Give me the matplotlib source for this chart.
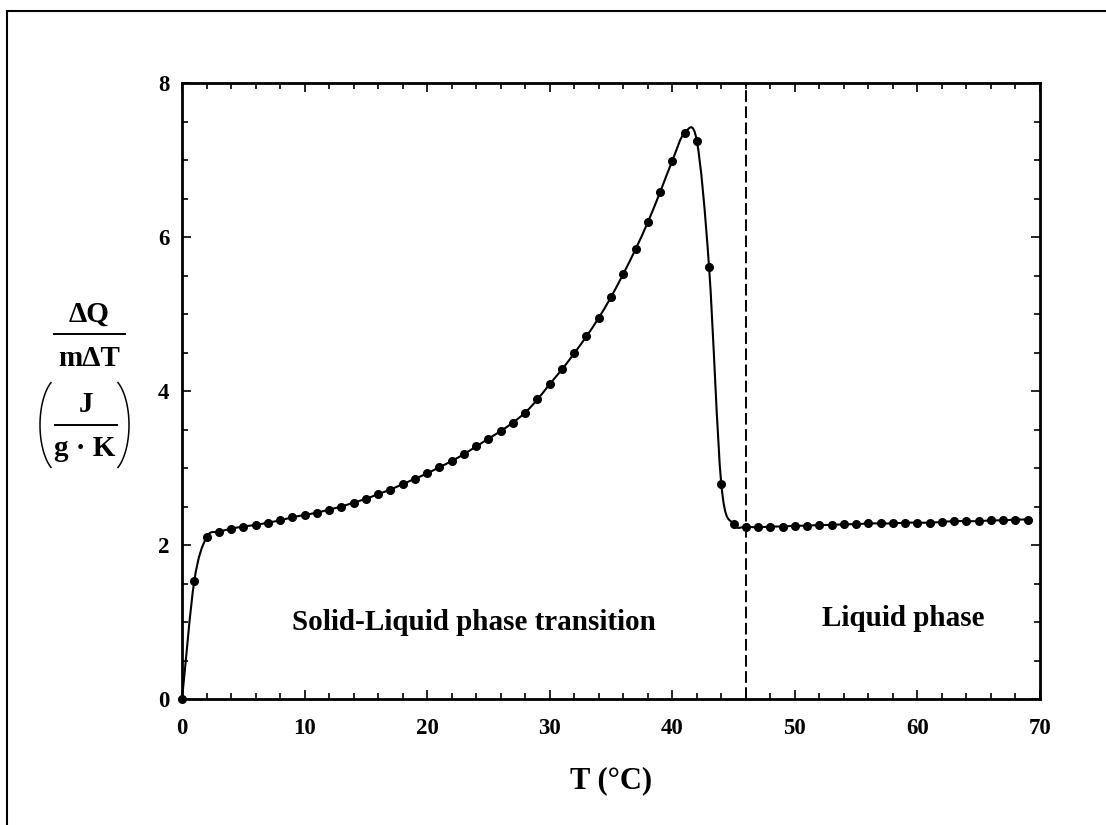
import numpy as np
import matplotlib
matplotlib.use("Agg")
import matplotlib.pyplot as plt
from matplotlib.path import Path
from matplotlib.patches import PathPatch, Rectangle
from matplotlib.lines import Line2D
from matplotlib.ticker import MultipleLocator

# specific heat readings, one per degree
temp = list(range(70))
cp = [0.00, 1.53, 2.10, 2.17, 2.21, 2.24, 2.26, 2.29, 2.32, 2.36,
      2.39, 2.42, 2.46, 2.50, 2.55, 2.60, 2.66, 2.72, 2.79, 2.86,
      2.93, 3.01, 3.09, 3.18, 3.28, 3.38, 3.48, 3.59, 3.72, 3.89,
      4.09, 4.28, 4.49, 4.71, 4.95, 5.22, 5.52, 5.84, 6.19, 6.58,
      6.99, 7.35, 7.25, 5.61, 2.79, 2.27, 2.24, 2.23, 2.24, 2.24,
      2.25, 2.25, 2.26, 2.26, 2.27, 2.27, 2.28, 2.28, 2.28, 2.29,
      2.29, 2.29, 2.30, 2.31, 2.31, 2.31, 2.32, 2.32, 2.33, 2.33]
melt_temp = 46
regions = ["Solid-Liquid phase transition", "Liquid phase"]
region_pos = [(23.8, 0.99), (58.85, 1.04)]

plt.rcParams['font.family'] = ['Liberation Serif', 'DejaVu Serif']
plt.rcParams['font.weight'] = 'bold'

W, H = 1106, 825
fig = plt.figure(figsize=(W / 100, H / 100), dpi=100)


def fx(x):
    return x / W


def fy(y):
    return 1 - y / H


def smooth_path(x, y):
    # smooth line through the points (cubic bezier, catmull-rom tangents)
    x = np.asarray(x, float)
    y = np.asarray(y, float)
    dx = np.gradient(x)
    dy = np.gradient(y)
    verts = [(x[0], y[0])]
    codes = [Path.MOVETO]
    for i in range(len(x) - 1):
        verts += [(x[i] + dx[i] / 3, y[i] + dy[i] / 3),
                  (x[i + 1] - dx[i + 1] / 3, y[i + 1] - dy[i + 1] / 3),
                  (x[i + 1], y[i + 1])]
        codes += [Path.CURVE4] * 3
    return Path(verts, codes)


# outer frame
fig.add_artist(Rectangle((fx(7), -0.2), 1.2, fy(11) + 0.2, transform=fig.transFigure,
                         fill=False, lw=1.5, edgecolor='black'))

ax = fig.add_axes([fx(182), fy(699), fx(1040) - fx(182), fy(83) - fy(699)])
ax.add_patch(PathPatch(smooth_path(temp, cp), fill=False, lw=1.5, edgecolor='black'))
ax.plot(temp, cp, 'o', ms=5.5, color='black', clip_on=False, zorder=3)
ax.axvline(melt_temp, color='black', lw=1.4, linestyle=(0, (6, 2.3)))

for txt, (tx, ty) in zip(regions, region_pos):
    ax.text(tx, ty, txt, ha='center', va='center', fontsize=21, fontweight='bold')

ax.set_xlim(0, 70)
ax.set_ylim(0, 8)
ax.xaxis.set_major_locator(MultipleLocator(10))
ax.xaxis.set_minor_locator(MultipleLocator(2))
ax.yaxis.set_major_locator(MultipleLocator(2))
ax.yaxis.set_minor_locator(MultipleLocator(0.5))
ax.tick_params(which='both', direction='in', top=True, right=True, width=1.2, labelsize=16.5)
ax.tick_params(which='major', length=6.5)
ax.tick_params(which='minor', length=4.3)
ax.tick_params(axis='x', pad=14)
ax.tick_params(axis='y', pad=9)
for lab in ax.get_xticklabels() + ax.get_yticklabels():
    lab.set_fontweight('bold')
for sp in ax.spines.values():
    sp.set_linewidth(2)

# x label
fig.text(fx(611), fy(781), "T (°C)", ha='center', va='center', fontsize=22, fontweight='bold')

# y label: dQ / (m dT) in J/(g K)
fig.text(fx(89), fy(314), "ΔQ", ha='center', va='center', fontsize=21, fontweight='bold')
fig.add_artist(Line2D([fx(54), fx(125)], [fy(334), fy(334)], transform=fig.transFigure,
                      color='black', lw=1.4))
fig.text(fx(89), fy(358), "mΔT", ha='center', va='center', fontsize=21, fontweight='bold')

fig.text(fx(86), fy(404), "J", ha='center', va='center', fontsize=21, fontweight='bold')
fig.add_artist(Line2D([fx(55), fx(117)], [fy(425), fy(425)], transform=fig.transFigure,
                      color='black', lw=1.4))
fig.text(fx(85), fy(449), "g · K", ha='center', va='center', fontsize=21, fontweight='bold')

theta = np.radians(np.linspace(120, 240, 40))
for cx, sgn in [(62, 1), (107, -1)]:
    px = cx + sgn * 22 * np.cos(theta)
    py = 425 - 49 * np.sin(theta)
    fig.add_artist(Line2D(fx(px), fy(py), transform=fig.transFigure, color='black', lw=1.1))

fig.savefig("out.png", dpi=100)
